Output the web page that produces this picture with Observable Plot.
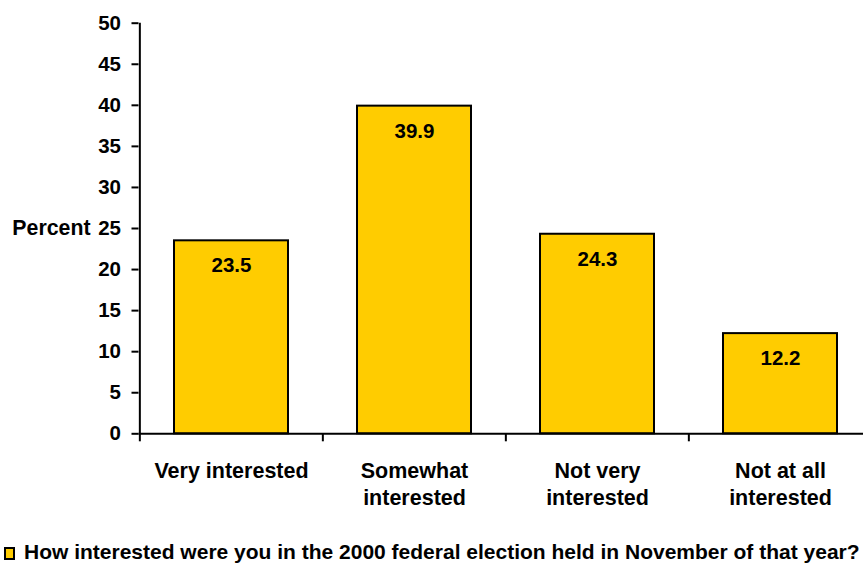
<!DOCTYPE html>
<html><head><meta charset="utf-8">
<script src="https://cdn.jsdelivr.net/npm/d3@7"></script>
<script src="https://cdn.jsdelivr.net/npm/@observablehq/plot@0.6"></script>
<style>
html,body{margin:0;padding:0;background:#fff;overflow:hidden;width:863px;height:567px;}
#chart{position:relative;width:863px;height:567px;font-family:"Liberation Sans",Arial,sans-serif;}
#chart svg{display:block;overflow:visible;}
.legend{position:absolute;left:0;top:540px;height:24px;white-space:nowrap;}
.swatch{position:absolute;left:4px;top:7px;width:11px;height:13px;box-sizing:border-box;background:#FFCC00;border:2px solid #000;}
.legend-text{position:absolute;left:24px;top:0;font-size:21px;font-weight:bold;line-height:24px;color:#000;}
</style></head><body><div id="chart"></div>
<script>
const categories = ["Very interested", "Somewhat interested", "Not very interested", "Not at all interested"];
const categoryLabels = ["Very interested", "Somewhat\ninterested", "Not very\ninterested", "Not at all\ninterested"];
const values = [23.5, 39.9, 24.3, 12.2];
const yTicks = [0, 5, 10, 15, 20, 25, 30, 35, 40, 45, 50];
const yDomain = [0, 50];
const yTitle = "Percent";
const seriesName = "How interested were you in the 2000 federal election held in November of that year?";
const barColor = "#FFCC00";

const data = categories.map((c, i) => ({category: c, value: values[i]}));
const labelOf = new Map(categories.map((c, i) => [c, categoryLabels[i]]));

const xRange = [138.5, 871.7];
const step = (xRange[1] - xRange[0]) / categories.length;
const font = '"Liberation Sans", Arial, sans-serif';

const chart = Plot.plot({
  width: 863,
  height: 520,
  marginTop: 22.7,
  marginBottom: 86.7,
  marginLeft: 138.5,
  marginRight: 0,
  style: {fontFamily: font, color: "#000", background: "#fff", overflow: "visible"},
  x: {domain: categories, range: xRange, paddingInner: 0.378, paddingOuter: 0.189, axis: null},
  y: {domain: yDomain, axis: null},
  marks: [
    Plot.barY(data, {x: "category", y: "value", fill: barColor, stroke: "#000", strokeWidth: 2}),
    Plot.text(data, {x: "category", y: "value", text: d => d.value.toFixed(1), dy: 25, fontSize: 20.5, fontWeight: "bold", fill: "#000"}),
    Plot.ruleY([0], {stroke: "#000", strokeWidth: 2}),
    Plot.ruleX([categories[0]], {x: d => d, dx: -step / 2, y1: yDomain[0], y2: yDomain[1], stroke: "#000", strokeWidth: 2}),
    Plot.axisY({ticks: yTicks, tickSize: 7, tickPadding: 11, strokeWidth: 2, fontSize: 20.5, fontWeight: "bold", label: null}),
    Plot.text([{label: yTitle, at: (yDomain[0] + yDomain[1]) / 2}], {y: "at", text: "label", frameAnchor: "left", textAnchor: "end", dx: -48.5, fontSize: 21.3, fontWeight: "bold", fill: "#000"}),
    Plot.axisX({tickSize: 8, strokeWidth: 2, dx: -step / 2, tickFormat: () => "", label: null}),
    Plot.axisX({tickSize: 0, tickPadding: 25, fontSize: 21.5, fontWeight: "bold", lineHeight: 1.256, tickFormat: d => labelOf.get(d), label: null})
  ]
});

const root = document.getElementById("chart");
root.appendChild(chart);
const legend = document.createElement("div");
legend.className = "legend";
const sw = document.createElement("span");
sw.className = "swatch";
const lt = document.createElement("span");
lt.className = "legend-text";
lt.textContent = seriesName;
legend.appendChild(sw);
legend.appendChild(lt);
root.appendChild(legend);
</script>
</body></html>
